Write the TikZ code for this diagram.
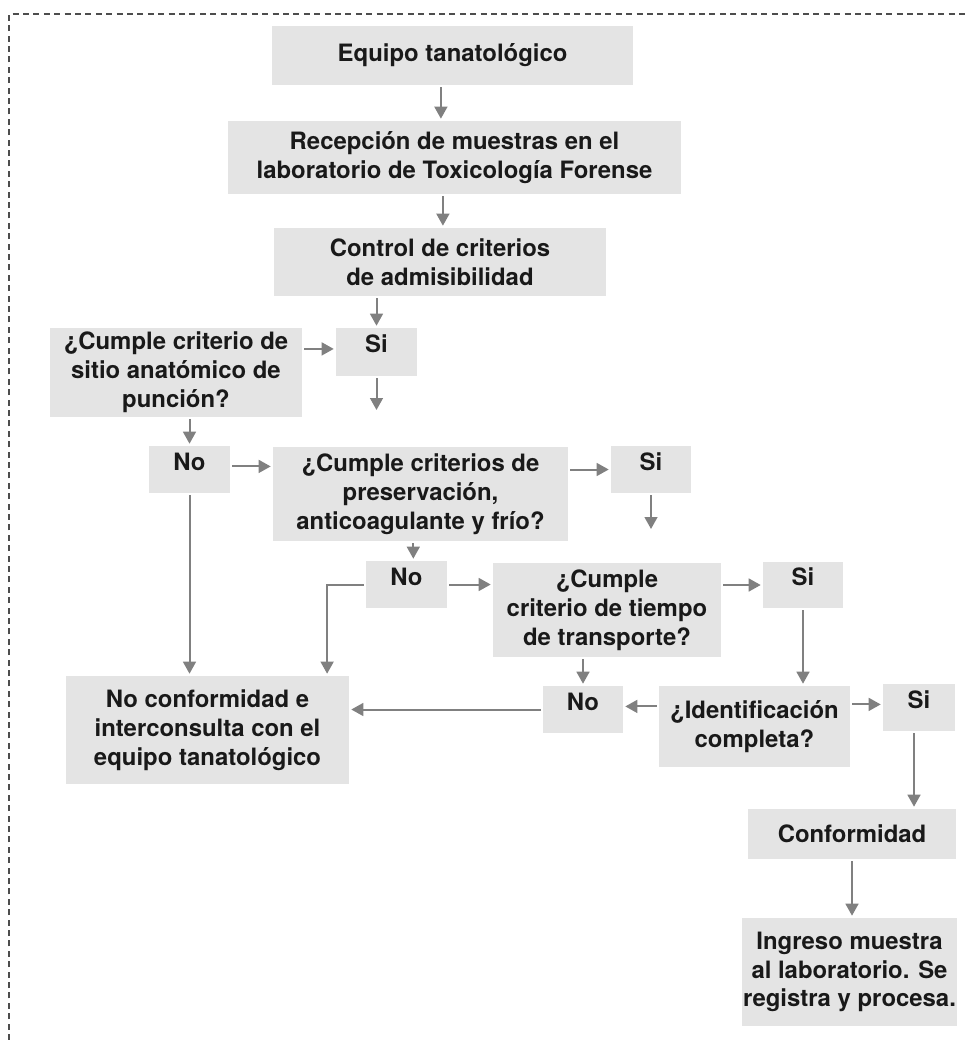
\documentclass[tikz,border=0pt]{standalone}
\usepackage{fontspec}
\setmainfont{TeX Gyre Heros}
\usetikzlibrary{arrows.meta}
\definecolor{cajagris}{HTML}{E4E4E4}
\definecolor{flechagris}{HTML}{808080}
\definecolor{marcogris}{HTML}{4D4D4D}
\begin{document}
\begin{tikzpicture}[x=0.25mm,y=-0.25mm,
	every node/.style={font=\bfseries\fontsize{17}{20.5}\selectfont,text=black!90},
	caja/.style={fill=cajagris,align=center,inner sep=0pt},
	sino/.style={caja,text height=4.3mm,text depth=4mm},
	flecha/.style={draw=flechagris,line width=0.5mm,-{Triangle[length=3mm,width=3.2mm]},shorten <=0.5mm,shorten >=0.5mm}]
	\useasboundingbox (0,0) rectangle (965,1040);
	\draw [marcogris,line width=0.4mm,dash pattern=on 1.5mm off 1.1mm] (9,1040) -- (9,14) -- (965,14);
	\node [caja,minimum width=90.25mm,minimum height=14.75mm] (equipo) at (452.5,55.5) {Equipo tanatológico};
	\node [caja,minimum width=113.25mm,minimum height=18.25mm] (recepcion) at (454.5,157.5) {Recepción de muestras en el\\laboratorio de Toxicología Forense};
	\node [caja,minimum width=83mm,minimum height=17mm] (control) at (440,262) {Control de criterios\\de admisibilidad};
	\node [caja,minimum width=63mm,minimum height=22.25mm] (sitio) at (176,372.5) {¿Cumple criterio de\\sitio anatómico de\\punción?};
	\node [sino,minimum width=20.25mm,minimum height=12mm] (si1) at (376.5,352) {Si};
	\node [sino,minimum width=20.25mm,minimum height=11.75mm] (no1) at (189.5,469.5) {No};
	\node [caja,minimum width=73.75mm,minimum height=23.5mm] (preserv) at (420.5,494) {¿Cumple criterios de\\preservación,\\anticoagulante y frío?};
	\node [sino,minimum width=20mm,minimum height=11.75mm] (si2) at (651,469.5) {Si};
	\node [sino,minimum width=20.25mm,minimum height=11.75mm] (no2) at (406.5,584.5) {No};
	\node [caja,minimum width=57mm,minimum height=23.5mm] (tiempo) at (607,610) {¿Cumple\\criterio de tiempo\\de transporte?};
	\node [sino,minimum width=20mm,minimum height=11.5mm] (si3) at (803,585) {Si};
	\node [caja,minimum width=70.75mm,minimum height=27mm] (noconf) at (207.5,730) {No conformidad e\\interconsulta con el\\equipo tanatológico};
	\node [sino,minimum width=20mm,minimum height=11.75mm] (no3) at (583,709.5) {No};
	\node [caja,minimum width=47.75mm,minimum height=20.25mm] (ident) at (754.5,726.5) {¿Identificación\\completa?};
	\node [sino,minimum width=18mm,minimum height=11.75mm] (si4) at (919,707.5) {Si};
	\node [caja,minimum width=52mm,minimum height=12.5mm] (conf) at (852,834) {Conformidad};
	\node [caja,minimum width=53.75mm,minimum height=27mm] (ingreso) at (849.5,972) {Ingreso muestra\\al laboratorio. Se\\registra y procesa.};
	\coordinate (e1) at ([xshift=-2.9mm]equipo.south);
	\coordinate (r1) at ([xshift=-2.9mm]recepcion.south);
	\coordinate (n2) at ([xshift=1.7mm]no2.north);
	\coordinate (s4) at ([xshift=-1.25mm]si4.south);
	\coordinate (f1) at (376.5,412);
	\coordinate (f2) at (651,531);
	\draw [flecha] (e1) -- (e1 |- recepcion.north);
	\draw [flecha] (r1) -- (r1 |- control.north);
	\draw [flecha] (control.south -| si1.north) -- (si1.north);
	\draw [flecha] (sitio.east |- si1.mid west) -- (si1.mid west);
	\draw [flecha] (si1.south) -- (f1);
	\draw [flecha] (sitio.south -| no1.north) -- (no1.north);
	\draw [flecha] (no1.mid east) -- (no1.mid east -| preserv.west);
	\draw [flecha] (preserv.east |- si2.west) -- (si2.west);
	\draw [flecha] (si2.south) -- (f2);
	\draw [flecha] (preserv.south -| n2) -- (n2);
	\draw [flecha] (no2.east) -- (no2.east -| tiempo.west);
	\draw [flecha] (tiempo.east |- si3.west) -- (si3.west);
	\draw [flecha] (si3.south) -- (si3.south |- ident.north);
	\draw [flecha] (no1.south) -- (no1.south |- noconf.north);
	\draw [flecha] (no2.west) -| ([xshift=29.9mm]noconf.north);
	\draw [flecha] (tiempo.south -| no3.north) -- (no3.north);
	\draw [flecha] (ident.west |- no3.mid east) -- (no3.mid east);
	\draw [flecha] (no3.west) -- (no3.west -| noconf.east);
	\draw [flecha] (ident.east |- si4.mid west) -- (si4.mid west);
	\draw [flecha] (s4) -- (s4 |- conf.north);
	\draw [flecha] (conf.south) -- (conf.south |- ingreso.north);
\end{tikzpicture}
\end{document}
